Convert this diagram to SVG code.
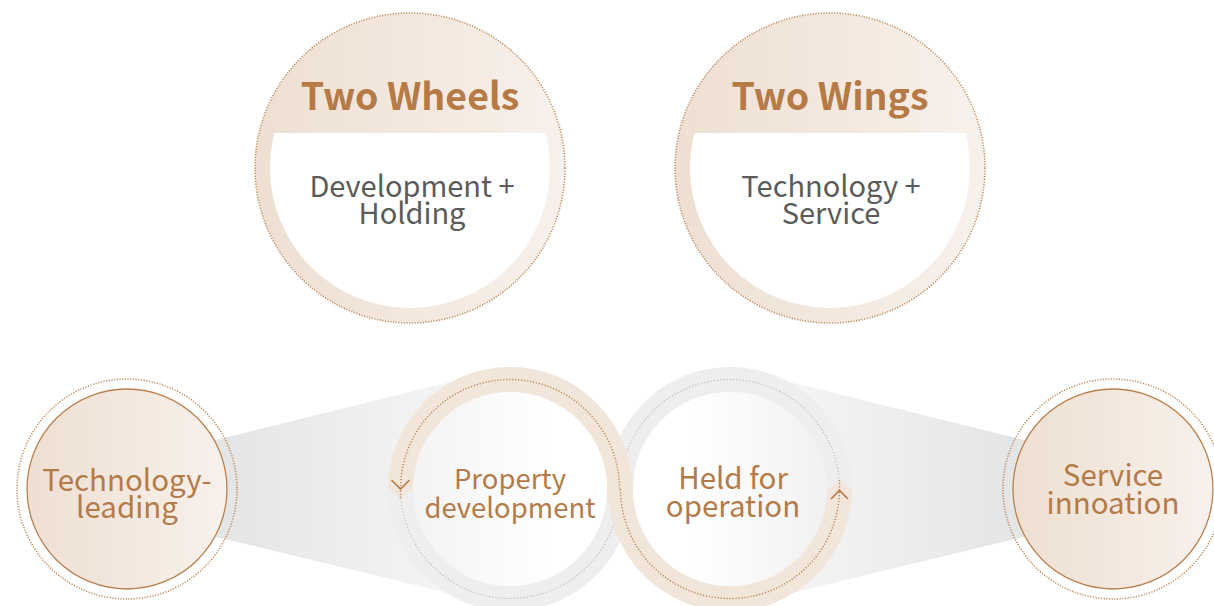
<svg xmlns="http://www.w3.org/2000/svg" width="1214" height="606" viewBox="0 0 1214 606">
<style>
.title{font-family:"Noto Sans CJK SC","Noto Sans",sans-serif;font-weight:700;font-size:37.5px;fill:#b57a45;text-anchor:middle}
.sub{font-family:"Noto Sans CJK SC","Noto Sans",sans-serif;font-size:29px;fill:#5b5b5b;text-anchor:middle}
.lbl{font-family:"Noto Sans CJK SC","Noto Sans",sans-serif;font-size:29.5px;fill:#b47b4a;text-anchor:middle}
.lbs{font-size:27.5px}
.dotB{fill:none;stroke:#bf8858;stroke-width:1.5;stroke-dasharray:1.2 1.5}
.dotG{fill:none;stroke:#bdbdbd;stroke-width:1.2;stroke-dasharray:1.2 2}
.dotS{fill:none;stroke:#b98352;stroke-width:1.4;stroke-dasharray:1.2 1.8}
.chev{fill:none;stroke:#b57b47;stroke-width:1.6}
</style>
<defs>
<linearGradient id="gBeige" x1="0" y1="0" x2="1" y2="0">
<stop offset="0" stop-color="#eedfd2"/><stop offset="1" stop-color="#f8f1eb"/>
</linearGradient>
<linearGradient id="gWL" gradientUnits="userSpaceOnUse" x1="225" y1="0" x2="510" y2="0">
<stop offset="0" stop-color="#e4e5e5"/><stop offset="1" stop-color="#f9f9f9"/>
</linearGradient>
<linearGradient id="gWR" gradientUnits="userSpaceOnUse" x1="1015" y1="0" x2="730" y2="0">
<stop offset="0" stop-color="#e4e5e5"/><stop offset="1" stop-color="#f9f9f9"/>
</linearGradient>
<linearGradient id="gInL" x1="0" y1="0" x2="1" y2="0">
<stop offset="0" stop-color="#f3f3f3"/><stop offset="0.7" stop-color="#ffffff"/>
</linearGradient>
<linearGradient id="gInR" x1="0" y1="0" x2="1" y2="0">
<stop offset="0.3" stop-color="#ffffff"/><stop offset="1" stop-color="#f1f1f1"/>
</linearGradient>
<clipPath id="clipTop"><rect x="0" y="133" width="1214" height="220"/></clipPath>
</defs>
<rect width="1214" height="606" fill="#ffffff"/>

<g id="two-wheels">
<circle cx="410" cy="168" r="155" fill="url(#gBeige)"/>
<circle cx="410" cy="168" r="140" fill="#ffffff" clip-path="url(#clipTop)"/>
<circle cx="410" cy="168" r="155" class="dotB"/>
<text class="title" x="410" y="110">Two Wheels</text>
<text class="sub" x="412" y="197">Development +</text>
<text class="sub" x="412" y="224">Holding</text>
</g>

<g id="two-wings">
<circle cx="830" cy="168" r="155" fill="url(#gBeige)"/>
<circle cx="830" cy="168" r="140" fill="#ffffff" clip-path="url(#clipTop)"/>
<circle cx="830" cy="168" r="155" class="dotB"/>
<text class="title" x="830" y="110">Two Wings</text>
<text class="sub" x="831" y="197">Technology +</text>
<text class="sub" x="831" y="224">Service</text>
</g>

<g id="connectors">
<polygon points="180,449 510,367 510,608 180,528" fill="url(#gWL)"/>
<polygon points="1060,449 730,367 730,608 1060,528" fill="url(#gWR)"/>
<circle cx="510" cy="489" r="109.5" fill="none" stroke="#eeeeee" stroke-width="25"/>
<circle cx="730" cy="489" r="109.5" fill="none" stroke="#eeeeee" stroke-width="25"/>
<circle cx="510" cy="489" r="109.5" class="dotG"/>
<circle cx="730" cy="489" r="109.5" class="dotG"/>
<path d="M400.5,489 A109.5,109.5 0 0 1 510,379.5 A109.5,109.5 0 0 1 619.5,489 L620.5,489 A109.5,109.5 0 0 0 730,598.5 A109.5,109.5 0 0 0 839.5,489" fill="none" stroke="#f2e5da" stroke-width="25"/>
<polygon points="388,487 400.5,499 413,487" fill="#f2e5da"/>
<polygon points="827,491 839.5,479 852,491" fill="#f2e5da"/>
<path d="M400.5,498 L400.5,489 A109.5,109.5 0 0 1 510,379.5 A109.5,109.5 0 0 1 619.5,489 L620.5,489 A109.5,109.5 0 0 0 730,598.5 A109.5,109.5 0 0 0 839.5,489 L839.5,480" class="dotS"/>
<polyline points="391.5,480 400.5,489 409.5,480" class="chev"/>
<polyline points="831,499 839.5,490.5 848,499" class="chev"/>
</g>

<g id="technology-leading">
<circle cx="127" cy="489" r="100" fill="url(#gBeige)" stroke="#b98150" stroke-width="1.3"/>
<circle cx="127" cy="489" r="110" class="dotB"/>
<text class="lbl" x="127" y="491">Technology-</text>
<text class="lbl" x="127" y="518">leading</text>
</g>

<g id="property-development">
<circle cx="510" cy="489" r="97" fill="url(#gInL)"/>
<text class="lbl lbs" x="510" y="489">Property</text>
<text class="lbl lbs" x="510" y="518">development</text>
</g>

<g id="held-for-operation">
<circle cx="730" cy="489" r="97" fill="url(#gInR)"/>
<text class="lbl" x="733" y="489">Held for</text>
<text class="lbl" x="733" y="517">operation</text>
</g>

<g id="service-innovation">
<circle cx="1113" cy="489" r="100" fill="url(#gBeige)" stroke="#b98150" stroke-width="1.3"/>
<circle cx="1113" cy="489" r="110" class="dotB"/>
<text class="lbl" x="1113" y="486">Service</text>
<text class="lbl" x="1113" y="514">innoation</text>
</g>
</svg>
